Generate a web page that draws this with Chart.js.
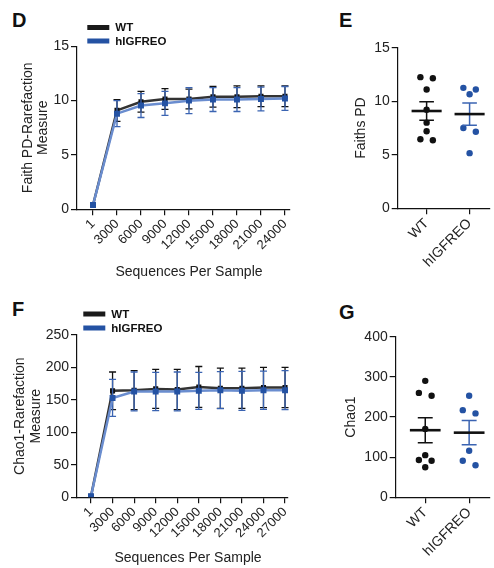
<!DOCTYPE html>
<html>
<head>
<meta charset="utf-8">
<title>Alpha diversity</title>
<script src="https://cdn.jsdelivr.net/npm/chart.js@4.4.1/dist/chart.umd.min.js"></script>
<style>
  html, body { margin: 0; background: #fff; }
  body { width: 494px; height: 568px; position: relative; overflow: hidden; }
  .panel { position: absolute; }
  .letter { position: absolute; font: bold 20px/20px "Liberation Sans", Arial, sans-serif; color: #111; }
</style>
</head>
<body>
<div class="letter" style="left:12px;top:10px">D</div>
<div class="letter" style="left:339px;top:10px">E</div>
<div class="letter" style="left:12px;top:299px">F</div>
<div class="letter" style="left:339px;top:302px">G</div>

<div class="panel" style="left:0;top:0;width:300px;height:285px"><canvas id="chartD"></canvas></div>
<div class="panel" style="left:300px;top:0;width:194px;height:285px"><canvas id="chartE"></canvas></div>
<div class="panel" style="left:0;top:280px;width:300px;height:288px"><canvas id="chartF"></canvas></div>
<div class="panel" style="left:300px;top:280px;width:194px;height:288px"><canvas id="chartG"></canvas></div>

<script>
// ---- data ----
const groups = ['WT', 'hIGFREO'];

// D - Faith PD rarefaction (mean +- SD)
const faithDepths = ['1', '3000', '6000', '9000', '12000', '15000', '18000', '21000', '24000'];
const faithWtMean = [0.4, 9.1, 9.9, 10.15, 10.15, 10.35, 10.35, 10.4, 10.4];
const faithWtSd   = [0, 1.0, 0.95, 0.95, 0.9, 0.95, 1.0, 0.95, 0.95];
const faithHiMean = [0.4, 8.8, 9.55, 9.75, 10.0, 10.1, 10.1, 10.15, 10.2];
const faithHiSd   = [0, 1.2, 1.1, 1.1, 1.2, 1.1, 1.1, 1.1, 1.1];
const faithTicks  = [0, 5, 10, 15];

// E - Faiths PD per animal
const faithWtPoints = [12.15, 12.25, 11.1, 9.2, 8.0, 7.2, 6.35, 6.45];
const faithHiPoints = [11.25, 11.1, 10.65, 7.5, 7.15, 5.15];

// F - Chao1 rarefaction (mean +- SD)
const chaoDepths = ['1', '3000', '6000', '9000', '12000', '15000', '18000', '21000', '24000', '27000'];
const chaoWtMean = [1.5, 164, 165, 167, 166, 170, 168, 168, 169, 169];
const chaoWtSd   = [0, 29, 30, 30, 31, 31.5, 31, 31, 31, 31];
const chaoHiMean = [1.5, 153, 163, 163, 163, 164, 165, 164, 165, 165];
const chaoHiSd   = [0, 28.5, 30, 29.5, 30, 28.5, 28.5, 30, 29.5, 30];
const chaoTicks  = [0, 50, 100, 150, 200, 250];

// G - Chao1 per animal
const chaoWtPoints = [290, 260, 253, 170, 105, 93, 91, 75];
const chaoHiPoints = [253, 217, 209, 116, 91, 80];
const chaoDotTicks = [0, 100, 200, 300, 400];

// ---- style ----
const FONT = '"Liberation Sans", Arial, sans-serif';
const INK = '#111111';
const BLUE = '#2452a3';
const BLUE_LINE = '#6a8dcf';
const BLUE_BAR = '#3b64b2';

Chart.defaults.font.family = FONT;
Chart.defaults.color = '#222';
Chart.defaults.animation = false;

const axisGrid = { drawOnChartArea: false, drawTicks: true, tickLength: 6, color: INK, lineWidth: 1.2 };
const axisBorder = { display: true, color: INK, width: 1.2 };

// error bars under each series, drawn just before the series itself
const errorBars = {
  id: 'errorBars',
  beforeDatasetDraw(chart, args) {
    const ds = chart.data.datasets[args.index];
    if (!ds.sd) return;
    const { x, y } = chart.scales;
    const ctx = chart.ctx;
    ctx.save();
    ctx.strokeStyle = ds.barColor;
    ctx.lineWidth = 1.3;
    ds.data.forEach((p, i) => {
      const s = ds.sd[i];
      if (!s) return;
      const px = x.getPixelForValue(p.x);
      const top = y.getPixelForValue(p.y + s);
      const bot = y.getPixelForValue(p.y - s);
      ctx.beginPath();
      ctx.moveTo(px, top); ctx.lineTo(px, bot);
      ctx.moveTo(px - 3.5, top); ctx.lineTo(px + 3.5, top);
      ctx.moveTo(px - 3.5, bot); ctx.lineTo(px + 3.5, bot);
      ctx.stroke();
    });
    ctx.restore();
  }
};

// small two-row key with thick bars, like the original
const seriesKey = {
  id: 'seriesKey',
  afterDraw(chart, args, o) {
    const ctx = chart.ctx;
    ctx.save();
    ctx.font = 'bold 11.5px ' + FONT;
    ctx.textBaseline = 'middle';
    ctx.textAlign = 'left';
    chart.data.datasets.forEach((ds, i) => {
      const y = o.y + i * o.gap;
      ctx.fillStyle = ds.keyColor;
      ctx.fillRect(o.x, y - 2.5, 22, 5);
      ctx.fillStyle = INK;
      ctx.fillText(ds.label, o.x + 28, y + 0.5);
    });
    ctx.restore();
  }
};

// x caption centred on the tick span (GraphPad style)
const axisCaption = {
  id: 'axisCaption',
  afterDraw(chart, args, o) {
    const x = chart.scales.x;
    const t = x.ticks;
    const cx = (x.getPixelForValue(t[0].value) + x.getPixelForValue(t[t.length - 1].value)) / 2;
    const ctx = chart.ctx;
    ctx.save();
    ctx.font = '14px ' + FONT;
    ctx.textAlign = 'center';
    ctx.textBaseline = 'middle';
    ctx.fillStyle = '#222';
    ctx.fillText(o.text, cx, chart.chartArea.bottom + o.offset);
    ctx.restore();
  }
};

// mean line + SEM bar over each dot column
const meanSem = {
  id: 'meanSem',
  afterDatasetsDraw(chart) {
    const { x, y } = chart.scales;
    const ctx = chart.ctx;
    chart.data.datasets.forEach(ds => {
      const v = ds.raw;
      const n = v.length;
      const mean = v.reduce((a, b) => a + b, 0) / n;
      const sd = Math.sqrt(v.reduce((a, b) => a + (b - mean) * (b - mean), 0) / (n - 1));
      const sem = sd / Math.sqrt(n);
      const g = ds.group;
      const px = x.getPixelForValue(g);
      const capL = x.getPixelForValue(g - 0.17), capR = x.getPixelForValue(g + 0.17);
      const top = y.getPixelForValue(mean + sem), bot = y.getPixelForValue(mean - sem);
      ctx.save();
      ctx.strokeStyle = ds.barColor;
      ctx.lineWidth = 1.5;
      ctx.beginPath();
      ctx.moveTo(px, top); ctx.lineTo(px, bot);
      ctx.moveTo(capL, top); ctx.lineTo(capR, top);
      ctx.moveTo(capL, bot); ctx.lineTo(capR, bot);
      ctx.stroke();
      ctx.strokeStyle = INK;
      ctx.lineWidth = 2.6;
      ctx.beginPath();
      const my = y.getPixelForValue(mean);
      ctx.moveTo(x.getPixelForValue(g - 0.35), my);
      ctx.lineTo(x.getPixelForValue(g + 0.35), my);
      ctx.stroke();
      ctx.restore();
    });
  }
};

// simple symmetric beeswarm in value units -> slot per point
function swarm(values, gap) {
  const pts = values.map(v => ({ v, s: 0 })).sort((a, b) => b.v - a.v);
  const placed = [];
  pts.forEach(p => {
    for (const s of [0, -1, 1, -2, 2]) {
      if (!placed.some(q => q.s === s && Math.abs(q.v - p.v) < gap)) { p.s = s; break; }
    }
    placed.push(p);
  });
  placed.forEach(p => {
    if (p.s !== 0) return;
    const near = placed.filter(q => q !== p && Math.abs(q.v - p.v) < gap);
    if (near.length === 1 && near[0].s === -1) { p.s = -1; near[0].s = 1; }
  });
  return placed;
}

function rarefactionChart(id, depths, wtMean, wtSd, hiMean, hiSd, yTicks, yTitle, o) {
  const pts = m => m.map((v, i) => ({ x: i, y: v }));
  return new Chart(document.getElementById(id), {
    type: 'line',
    data: {
      datasets: [
        { label: groups[0], data: pts(wtMean), sd: wtSd, barColor: INK, keyColor: '#1a1a1a',
          borderColor: '#333', borderWidth: 2.5, pointStyle: 'rect', pointRadius: 3.6,
          pointBackgroundColor: INK, pointBorderWidth: 0, tension: 0, order: 2 },
        { label: groups[1], data: pts(hiMean), sd: hiSd, barColor: BLUE_BAR, keyColor: BLUE,
          borderColor: BLUE_LINE, borderWidth: 2.5, pointStyle: 'rect', pointRadius: 4.2,
          pointBackgroundColor: BLUE, pointBorderWidth: 0, tension: 0, order: 1 }
      ]
    },
    options: {
      responsive: true,
      maintainAspectRatio: false,
      layout: { padding: { left: 0, top: o.top, right: o.right, bottom: 0 } },
      plugins: {
        legend: { display: false },
        tooltip: { enabled: false },
        seriesKey: o.key,
        axisCaption: { text: 'Sequences Per Sample', offset: o.caption }
      },
      scales: {
        x: {
          type: 'linear', min: o.xMin, max: o.xMax,
          afterBuildTicks: s => { s.ticks = depths.map((d, i) => ({ value: i })); },
          afterFit: s => { s.height = o.xHeight; },
          ticks: { autoSkip: false, minRotation: 45, maxRotation: 45, padding: 1,
                   font: { size: 13 }, callback: v => depths[v] },
          grid: axisGrid, border: axisBorder
        },
        y: {
          min: 0, max: yTicks[yTicks.length - 1],
          afterBuildTicks: s => { s.ticks = yTicks.map(v => ({ value: v })); },
          afterFit: s => { s.width = 77; },
          ticks: { padding: 2, font: { size: 14 } },
          title: { display: true, text: yTitle, color: '#222',
                   font: { size: 14, lineHeight: o.titleLH }, padding: { top: o.titlePad, bottom: 0 } },
          grid: axisGrid, border: axisBorder
        }
      }
    },
    plugins: [errorBars, seriesKey, axisCaption]
  });
}

function dotChart(id, wtPts, hiPts, yTicks, yTitle, o) {
  const yMax = yTicks[yTicks.length - 1];
  const gap = yMax * 0.037;
  const xy = (vals, g) => swarm(vals, gap).map(p => ({ x: g + p.s * 0.145, y: p.v }));
  return new Chart(document.getElementById(id), {
    type: 'scatter',
    data: {
      datasets: [
        { label: groups[0], data: xy(wtPts, 0), raw: wtPts, group: 0, barColor: INK,
          pointBackgroundColor: INK, pointBorderWidth: 0, pointRadius: 3.2 },
        { label: groups[1], data: xy(hiPts, 1), raw: hiPts, group: 1, barColor: BLUE_BAR,
          pointBackgroundColor: BLUE, pointBorderWidth: 0, pointRadius: 3.2 }
      ]
    },
    options: {
      responsive: true,
      maintainAspectRatio: false,
      layout: { padding: { left: 0, top: o.top, right: 0.5, bottom: 0 } },
      plugins: { legend: { display: false }, tooltip: { enabled: false } },
      scales: {
        x: {
          type: 'linear', min: -0.673, max: 1.475,
          afterBuildTicks: s => { s.ticks = groups.map((g, i) => ({ value: i })); },
          afterFit: s => { s.height = o.xHeight; },
          ticks: { autoSkip: false, minRotation: 45, maxRotation: 45, padding: 1,
                   font: { size: 14 }, callback: v => groups[v] },
          grid: axisGrid, border: axisBorder
        },
        y: {
          min: 0, max: yMax,
          afterBuildTicks: s => { s.ticks = yTicks.map(v => ({ value: v })); },
          afterFit: s => { s.width = o.yWidth; },
          ticks: { padding: 2, font: { size: 14 } },
          title: { display: true, text: yTitle, color: '#222',
                   font: { size: 14, lineHeight: 1.2 }, padding: { top: o.titlePad, bottom: 0 } },
          grid: axisGrid, border: axisBorder
        }
      }
    },
    plugins: [meanSem]
  });
}

rarefactionChart('chartD', faithDepths, faithWtMean, faithWtSd, faithHiMean, faithHiSd, faithTicks,
  ['Faith PD-Rarefaction', 'Measure'],
  { top: 46.3, right: 10, xMin: -0.667, xMax: 8.21, xHeight: 75.7, caption: 63,
    titleLH: 1.07, titlePad: 20.5, key: { x: 87.3, y: 27.5, gap: 13.5 } });

dotChart('chartE', faithWtPoints, faithHiPoints, faithTicks, 'Faiths PD',
  { top: 47.7, xHeight: 76.7, yWidth: 97.7, titlePad: 52.6 });

rarefactionChart('chartF', chaoDepths, chaoWtMean, chaoWtSd, chaoHiMean, chaoHiSd, chaoTicks,
  ['Chao1-Rarefaction', 'Measure'],
  { top: 55, right: 12, xMin: -0.649, xMax: 9.137, xHeight: 70.7, caption: 61,
    titleLH: 1.143, titlePad: 12, key: { x: 83.3, y: 34, gap: 14 } });

dotChart('chartG', chaoWtPoints, chaoHiPoints, chaoDotTicks, 'Chao1',
  { top: 56.7, xHeight: 70.7, yWidth: 95.7, titlePad: 42.6 });
</script>
</body>
</html>
